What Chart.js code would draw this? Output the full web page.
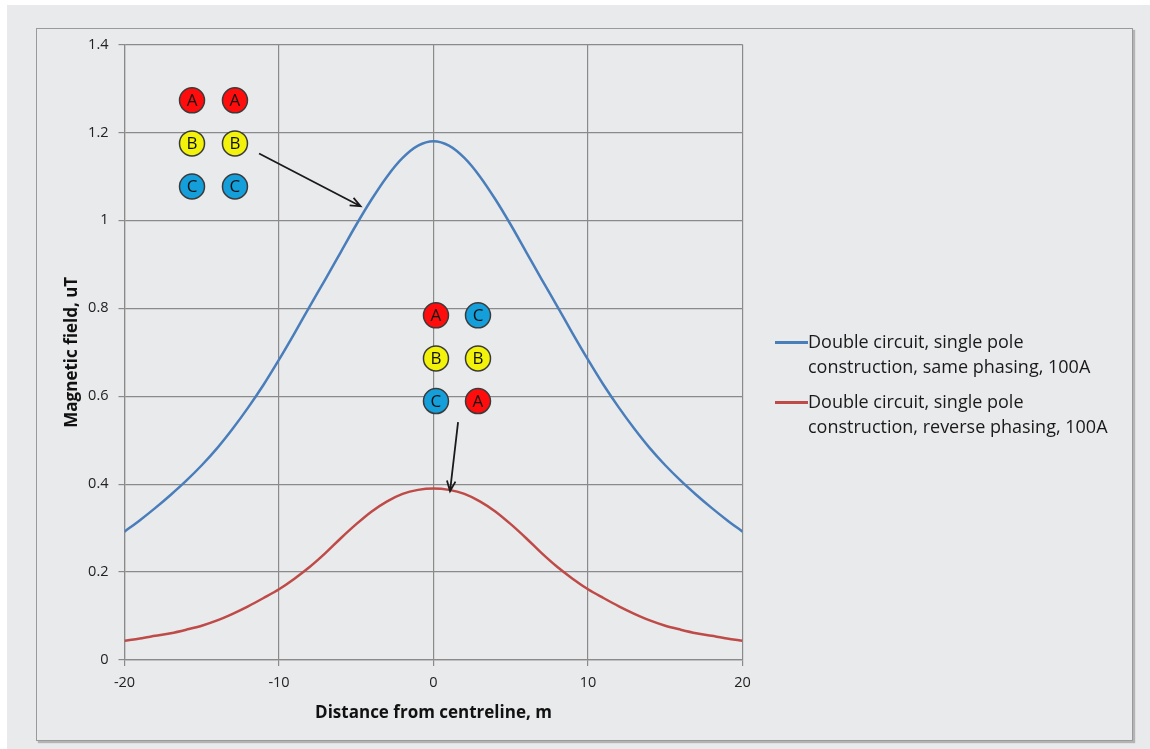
<!DOCTYPE html>
<html>
<head>
<meta charset="utf-8">
<script src="https://cdn.jsdelivr.net/npm/chart.js@4/dist/chart.umd.min.js"></script>
<style>
    html, body { margin: 0; padding: 0; background: #ffffff; }
    #page { position: absolute; left: 7px; top: 5px; width: 1143px; height: 744px; background: #e9eaec; }
    #frame {
        position: absolute; left: 36px; top: 28px; width: 1095px; height: 711px;
        border: 1px solid #9a9a9a;
        box-shadow: 2px 2px 1px #b4b4b4;
    }
    #wrap { position: absolute; left: 0; top: 0; width: 1150px; height: 749px; }
    #legend { position: absolute; left: 775px; top: 329px; font-family: 'Open Sans', sans-serif; font-size: 18px; color: #1a1a1a; }
    .item { position: relative; padding-left: 33px; line-height: 25px; margin-bottom: 10px; white-space: pre-line; }
    .swatch { position: absolute; left: 0; top: 12px; width: 33px; height: 2.5px; }
</style>
</head>
<body>
<div id="page"></div>
<div id="frame"></div>
<div id="wrap"><canvas id="fieldChart" width="1150" height="749"></canvas></div>
<div id="legend"></div>
<script>
// distance from centreline, m
const distances = [-20, -19, -18, -17, -16, -15, -14, -13, -12, -11, -10, -9, -8, -7, -6, -5, -4, -3, -2, -1, 0,
                   1, 2, 3, 4, 5, 6, 7, 8, 9, 10, 11, 12, 13, 14, 15, 16, 17, 18, 19, 20];

// magnetic field, uT
const samePhasing = [0.292, 0.318, 0.346, 0.376, 0.408, 0.443, 0.482, 0.526, 0.574, 0.626, 0.683, 0.743, 0.805, 0.866, 0.928, 0.990, 1.048, 1.100, 1.142, 1.170, 1.180,
                     1.170, 1.142, 1.100, 1.048, 0.990, 0.928, 0.866, 0.805, 0.743, 0.683, 0.626, 0.574, 0.526, 0.482, 0.443, 0.408, 0.376, 0.346, 0.318, 0.292];
const reversePhasing = [0.044, 0.049, 0.055, 0.061, 0.069, 0.078, 0.090, 0.105, 0.122, 0.141, 0.161, 0.185, 0.212, 0.243, 0.277, 0.309, 0.338, 0.361, 0.378, 0.387, 0.390,
                        0.387, 0.378, 0.361, 0.338, 0.309, 0.277, 0.243, 0.212, 0.185, 0.161, 0.141, 0.122, 0.105, 0.090, 0.078, 0.069, 0.061, 0.055, 0.049, 0.044];

const seriesLabels = [
    'Double circuit, single pole\nconstruction, same phasing, 100A',
    'Double circuit, single pole\nconstruction, reverse phasing, 100A'
];

const xTicks = [-20, -10, 0, 10, 20];
const yTicks = [0, 0.2, 0.4, 0.6, 0.8, 1, 1.2, 1.4];

// phase conductor sketches (letter, x, y in data units)
const topGroup = [
    ['A', -15.63, 1.273], ['A', -12.85, 1.273],
    ['B', -15.63, 1.175], ['B', -12.85, 1.175],
    ['C', -15.63, 1.077], ['C', -12.85, 1.077]
];
const midGroup = [
    ['A', 0.16, 0.784], ['C', 2.88, 0.784],
    ['B', 0.16, 0.686], ['B', 2.88, 0.686],
    ['C', 0.16, 0.589], ['A', 2.88, 0.589]
];
const arrows = [
    [-11.29, 1.152, -4.72, 1.032],
    [1.59, 0.541, 1.07, 0.384]
];

const phaseColours = { A: '#ff0d0d', B: '#f2f20a', C: '#149fdb' };

const sketchPlugin = {
    id: 'sketch',
    afterDatasetsDraw(chart) {
        const ctx = chart.ctx;
        const xs = chart.scales.x, ys = chart.scales.y;
        ctx.save();
        [...topGroup, ...midGroup].forEach(function(c) {
            const px = xs.getPixelForValue(c[1]);
            const py = ys.getPixelForValue(c[2]);
            ctx.beginPath();
            ctx.arc(px, py, 12.5, 0, Math.PI * 2);
            ctx.fillStyle = phaseColours[c[0]];
            ctx.fill();
            ctx.lineWidth = 1.5;
            ctx.strokeStyle = '#3a3a3a';
            ctx.stroke();
            ctx.fillStyle = '#111111';
            ctx.font = "17px 'Open Sans', sans-serif";
            ctx.textAlign = 'center';
            ctx.textBaseline = 'middle';
            ctx.fillText(c[0], px, py + 1);
        });
        arrows.forEach(function(a) {
            const x1 = xs.getPixelForValue(a[0]), y1 = ys.getPixelForValue(a[1]);
            const x2 = xs.getPixelForValue(a[2]), y2 = ys.getPixelForValue(a[3]);
            const ang = Math.atan2(y2 - y1, x2 - x1);
            ctx.strokeStyle = '#1a1a1a';
            ctx.lineWidth = 1.8;
            ctx.beginPath();
            ctx.moveTo(x1, y1);
            ctx.lineTo(x2, y2);
            ctx.moveTo(x2 - 11 * Math.cos(ang - 0.4), y2 - 11 * Math.sin(ang - 0.4));
            ctx.lineTo(x2, y2);
            ctx.lineTo(x2 - 11 * Math.cos(ang + 0.4), y2 - 11 * Math.sin(ang + 0.4));
            ctx.stroke();
        });
        ctx.restore();
    }
};

function points(ys) {
    return distances.map((d, i) => ({ x: d, y: ys[i] }));
}

const gridColour = '#8a8a8a';
const tickFont = { family: "'Open Sans', sans-serif", size: 14.5 };
const titleFont = { family: "'Open Sans', sans-serif", size: 17, weight: 'bold' };

const chart = new Chart(document.getElementById('fieldChart'), {
    type: 'line',
    data: {
        datasets: [{
            label: seriesLabels[0],
            data: points(samePhasing),
            borderColor: '#4a7ebb',
            borderWidth: 2.5,
            pointRadius: 0,
            cubicInterpolationMode: 'monotone'
        }, {
            label: seriesLabels[1],
            data: points(reversePhasing),
            borderColor: '#be4b48',
            borderWidth: 2.5,
            pointRadius: 0,
            cubicInterpolationMode: 'monotone'
        }]
    },
    options: {
        responsive: false,
        animation: false,
        layout: { padding: { left: 58, right: 407.5, top: 44.5, bottom: 22 } },
        plugins: {
            legend: { display: false },
            tooltip: { enabled: false }
        },
        scales: {
            x: {
                type: 'linear',
                min: -20, max: 20,
                afterBuildTicks: axis => { axis.ticks = xTicks.map(v => ({ value: v })); },
                afterFit: axis => { axis.height = 67; },
                grid: { color: gridColour, lineWidth: 1.2, tickLength: 6, tickColor: gridColour },
                border: { color: gridColour, width: 1.2 },
                ticks: { color: '#222', font: tickFont, padding: 8, maxRotation: 0 },
                title: { display: true, text: 'Distance from centreline, m', color: '#111', font: titleFont, padding: { top: 2 } }
            },
            y: {
                type: 'linear',
                min: 0, max: 1.4,
                afterBuildTicks: axis => { axis.ticks = yTicks.map(v => ({ value: v })); },
                afterFit: axis => { axis.width = 66.5; },
                grid: { color: gridColour, lineWidth: 1.2, tickLength: 6, tickColor: gridColour },
                border: { color: gridColour, width: 1.2 },
                ticks: {
                    color: '#222',
                    font: tickFont,
                    padding: 10,
                    callback: v => String(Number(v.toFixed(2)))
                },
                title: { display: true, text: 'Magnetic field, uT', color: '#111', font: titleFont, padding: { bottom: 0 } }
            }
        }
    },
    plugins: [sketchPlugin]
});

// legend on the right, built from the datasets
const legendBox = document.getElementById('legend');
chart.data.datasets.forEach(function(ds) {
    const item = document.createElement('div');
    item.className = 'item';
    const sw = document.createElement('span');
    sw.className = 'swatch';
    sw.style.background = ds.borderColor;
    item.appendChild(sw);
    item.appendChild(document.createTextNode(ds.label));
    legendBox.appendChild(item);
});
</script>
</body>
</html>
